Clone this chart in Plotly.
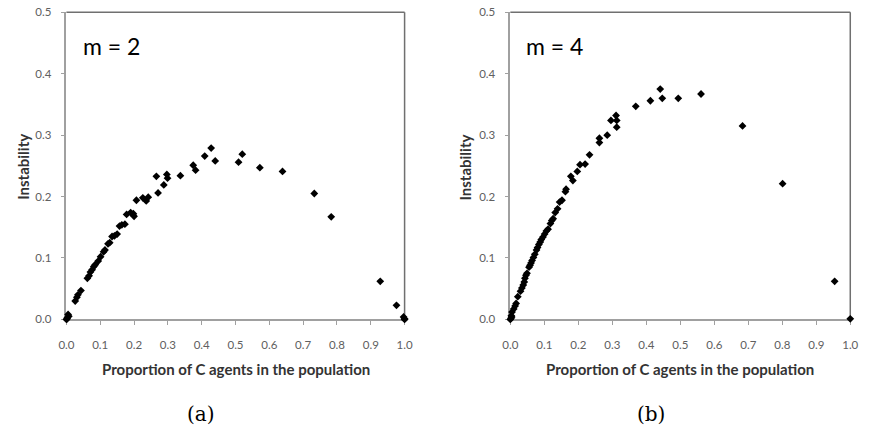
import plotly.graph_objects as go

# Panel (a): m = 2
xa = [0.0, 0.002, 0.003, 0.005, 0.007, 0.026, 0.031, 0.034, 0.043, 0.062, 0.067, 0.071, 0.076,
      0.081, 0.085, 0.094, 0.101, 0.110, 0.114, 0.123, 0.128, 0.135, 0.142, 0.150, 0.157, 0.164,
      0.173, 0.178, 0.190, 0.198, 0.200, 0.207, 0.226, 0.236, 0.242, 0.266, 0.271, 0.288, 0.297,
      0.299, 0.337, 0.375, 0.382, 0.409, 0.428, 0.440, 0.509, 0.520, 0.572, 0.639, 0.733, 0.783,
      0.928, 0.976, 0.997, 1.0, 1.0]
ya = [0.0, 0.001, 0.003, 0.008, 0.005, 0.030, 0.036, 0.040, 0.047, 0.067, 0.071, 0.077, 0.081,
      0.086, 0.089, 0.095, 0.102, 0.110, 0.113, 0.123, 0.125, 0.135, 0.136, 0.139, 0.152, 0.154,
      0.155, 0.171, 0.174, 0.172, 0.168, 0.194, 0.198, 0.193, 0.199, 0.233, 0.206, 0.219, 0.236,
      0.230, 0.234, 0.251, 0.243, 0.266, 0.279, 0.258, 0.256, 0.269, 0.247, 0.241, 0.205, 0.167,
      0.062, 0.023, 0.004, 0.001, 0.0]

# Panel (b): m = 4
xb = [0.0, 0.002, 0.003, 0.004, 0.005, 0.010, 0.014, 0.017, 0.022, 0.030, 0.034, 0.038, 0.041,
      0.043, 0.046, 0.049, 0.055, 0.058, 0.061, 0.064, 0.068, 0.072, 0.077, 0.080, 0.084, 0.088,
      0.091, 0.096, 0.101, 0.106, 0.111, 0.118, 0.122, 0.126, 0.132, 0.139, 0.145, 0.152, 0.162,
      0.164, 0.178, 0.184, 0.197, 0.205, 0.220, 0.233, 0.262, 0.262, 0.285, 0.296, 0.311, 0.313,
      0.313, 0.369, 0.412, 0.441, 0.447, 0.494, 0.561, 0.683, 0.801, 0.954, 1.0]
yb = [0.0, 0.002, 0.006, 0.004, 0.012, 0.017, 0.022, 0.026, 0.037, 0.046, 0.051, 0.056, 0.061,
      0.067, 0.072, 0.075, 0.085, 0.088, 0.092, 0.096, 0.101, 0.106, 0.113, 0.117, 0.122, 0.126,
      0.130, 0.134, 0.139, 0.144, 0.147, 0.156, 0.161, 0.164, 0.174, 0.180, 0.191, 0.194, 0.208,
      0.212, 0.233, 0.226, 0.241, 0.252, 0.253, 0.268, 0.295, 0.288, 0.300, 0.324, 0.332, 0.324,
      0.313, 0.347, 0.356, 0.375, 0.360, 0.360, 0.367, 0.315, 0.221, 0.062, 0.001]

panel_labels = ["m = 2", "m = 4"]
captions = ["(a)", "(b)"]
x_title = "Proportion of C agents in the population"
y_title = "Instability"

W, H = 873, 436
def px(x):
    return x / W
def py(y):
    return 1 - y / H

fig = go.Figure()
fig.add_trace(go.Scatter(x=xa, y=ya, mode="markers", xaxis="x", yaxis="y",
                         marker=dict(symbol="diamond", size=6, color="black"),
                         cliponaxis=False, showlegend=False))
fig.add_trace(go.Scatter(x=xb, y=yb, mode="markers", xaxis="x2", yaxis="y2",
                         marker=dict(symbol="diamond", size=6, color="black"),
                         cliponaxis=False, showlegend=False))

axis_common = dict(showline=True, linecolor="#a0a0a0", linewidth=1.5, mirror=False,
                   showgrid=False, zeroline=False, ticks="outside", ticklen=4,
                   tickcolor="#a0a0a0", tickwidth=1, dtick=0.1, tickformat=".1f",
                   ticklabeloverflow="allow", layer="below traces",
                   tickfont=dict(family="Lato", size=11.5, color="#606060"))

y_dom = [py(322), py(5.5)]
fig.update_layout(
    width=W, height=H, margin=dict(l=0, r=0, t=0, b=0),
    plot_bgcolor="white", paper_bgcolor="white",
    xaxis=dict(domain=[px(59.5), px(404)], range=[0, 1], anchor="y",
               ticklabelstandoff=10, **axis_common),
    yaxis=dict(domain=y_dom, range=[0, 0.5], anchor="x", ticklabelstandoff=7, **axis_common),
    xaxis2=dict(domain=[px(511.7), px(858)], range=[0, 1], anchor="y2",
                ticklabelstandoff=10, **axis_common),
    yaxis2=dict(domain=y_dom, range=[0, 0.5], anchor="x2", ticklabelstandoff=7, **axis_common),
)

# darker top/right frame edges
shapes = []
for xr, yr in [("x", "y"), ("x2", "y2")]:
    line = dict(color="#707070", width=1.5)
    shapes.append(dict(type="line", xref=xr + " domain", yref=yr + " domain",
                       x0=0, x1=1, y0=1, y1=1, line=line, layer="below"))
    shapes.append(dict(type="line", xref=xr + " domain", yref=yr + " domain",
                       x0=1, x1=1, y0=0, y1=1, line=line, layer="below"))
fig.update_layout(shapes=shapes)

def note(text, x, y, size, family="Lato", color="black", angle=0):
    return dict(text=text, x=px(x), y=py(y), xref="paper", yref="paper",
                xanchor="center", yanchor="middle", showarrow=False, textangle=angle,
                font=dict(family=family, size=size, color=color))

ann = []
for i, (xl, xc, yx) in enumerate([(105, 232, 15), (557, 685, 466)]):
    ann.append(note(panel_labels[i], xl, 40, 23))
    ann.append(note("<b>" + x_title + "</b>", xc, 373, 15, color="#333333"))
    ann.append(note("<b>" + y_title + "</b>", yx, 165, 15, color="#333333", angle=-90))
ann.append(note(captions[0], 197, 419, 20, family="DejaVu Serif"))
ann.append(note(captions[1], 655, 419, 20, family="DejaVu Serif"))
fig.update_layout(annotations=ann)

fig.write_html("out.html")
